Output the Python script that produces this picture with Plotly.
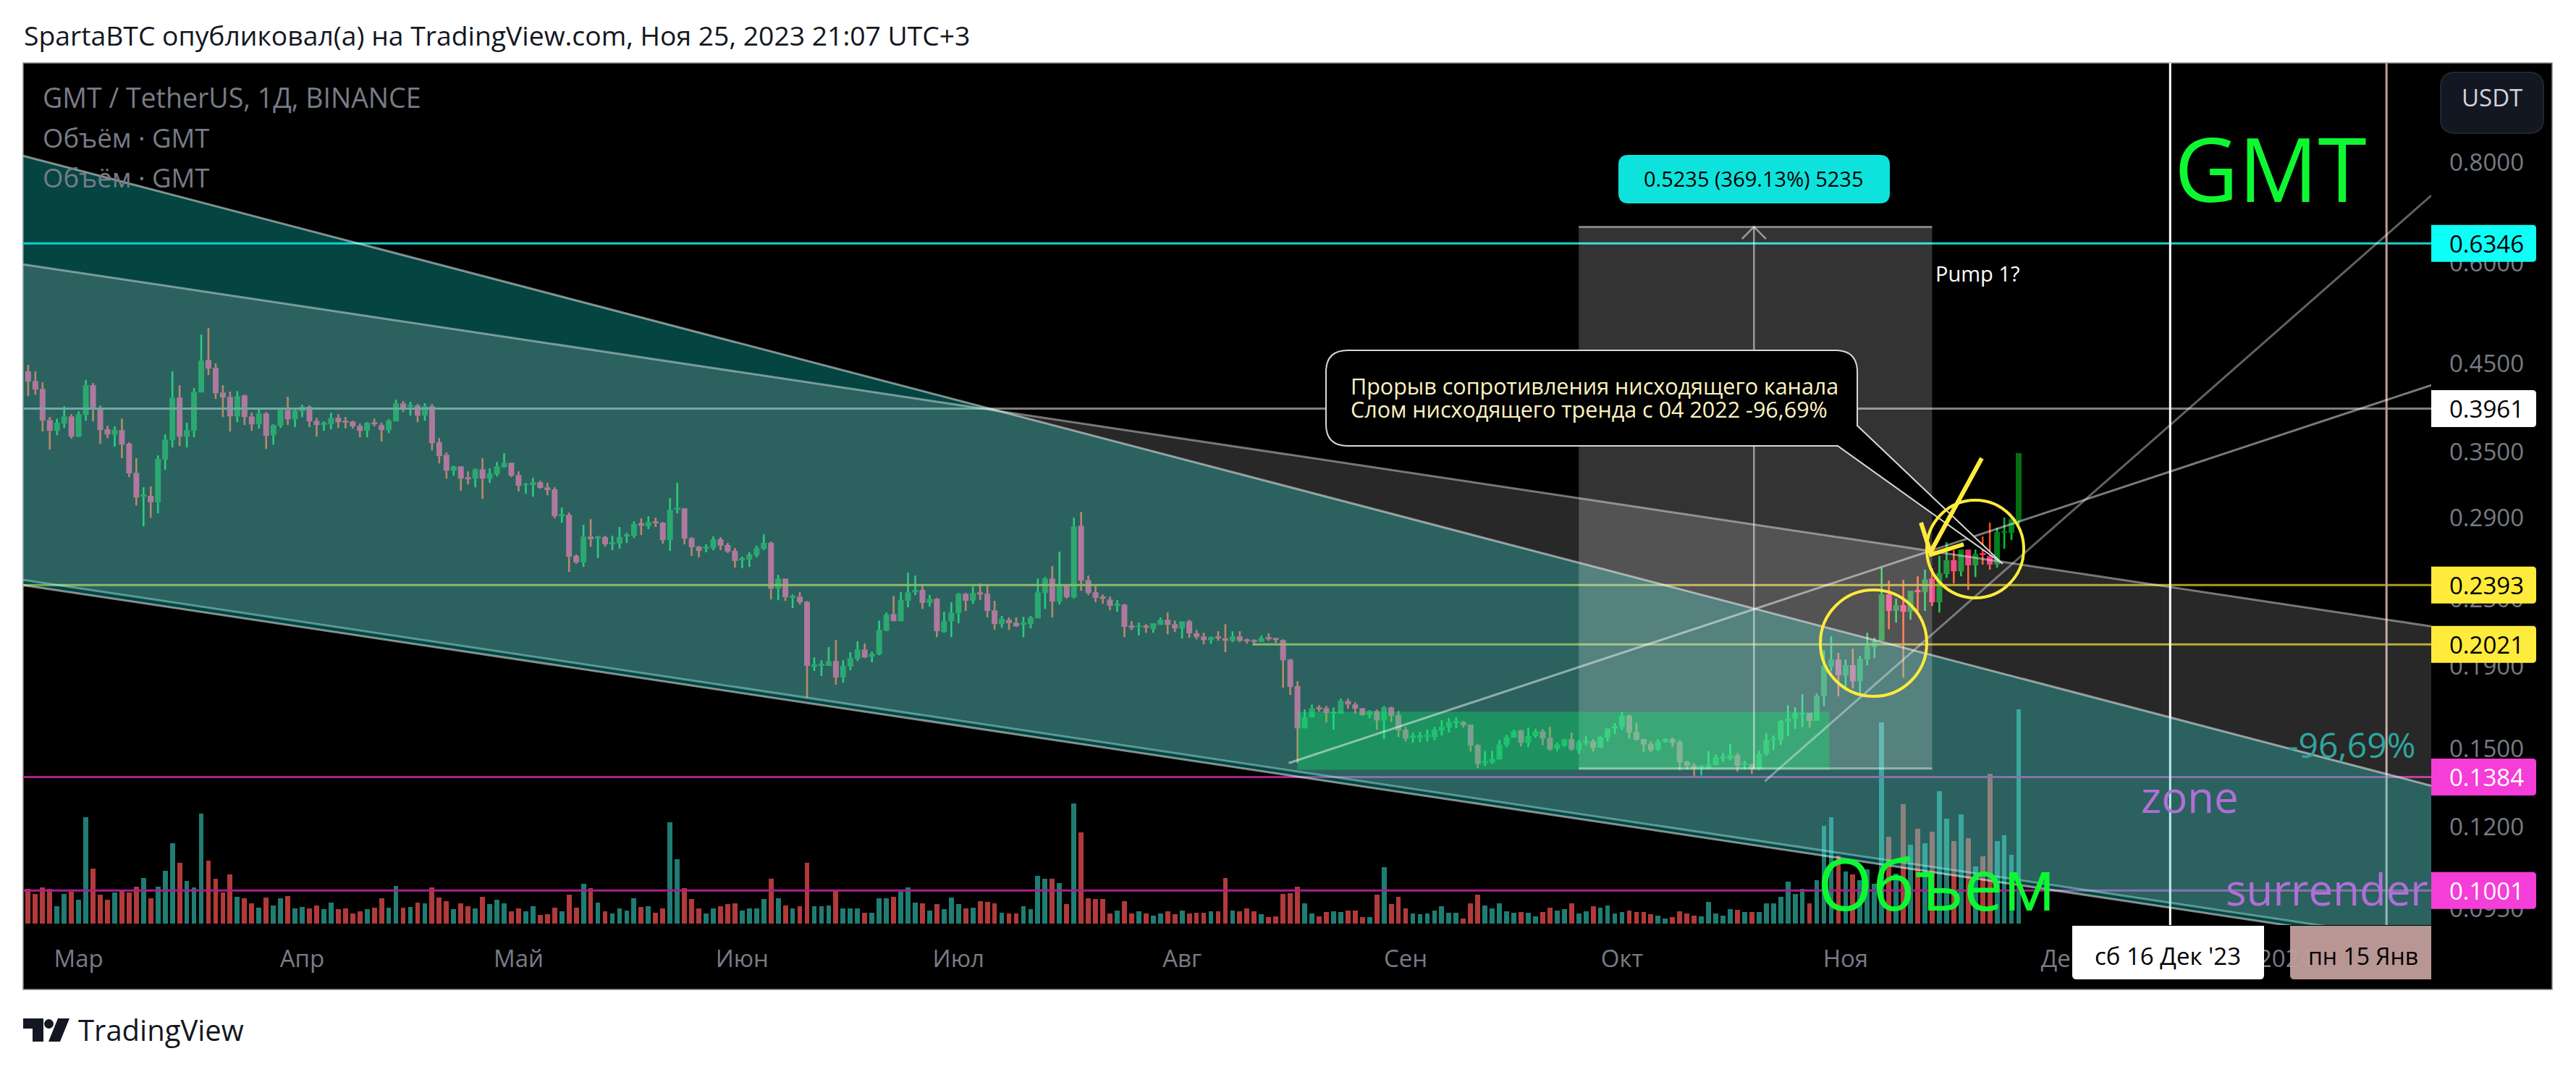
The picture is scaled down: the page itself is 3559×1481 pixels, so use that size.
import math
import pandas as pd
import plotly.graph_objects as go

W, H_PX = 3559, 1481
FONT = "Open Sans"

# ---- data ---------------------------------------------------------------------
start_date = "2023-02-22"
direction = ("rrrrggrggr" "rrgrrrgrgg" "grgggrrrrg" "rrgrggrggr" "rggrrrrgrr"
             "ggrgrgrrrg" "rrgrgggrrg" "grrrgrrgrg" "rggggrgrrg" "grrrggrrrg"
             "gggrgrgrrg" "ggrgggrggg" "rgggrgrggg" "rgrrrgrrgg" "ggrgrgrrrr"
             "rgrrgrggrr" "grrrgrrgrr" "rgrrrrrggr" "rggrrrgrgr" "rrgggggggr"
             "rrgggggrgg" "rrggrggrgg" "ggrrrrggrr" "rrgggggrgr" "gggggggrgg"
             "grgrggggrg" "rgrgrggrgr" "grrgggg")
high = [.4486,.4404,.4269,.3866,.3850,.3988,.3898,.3930,.4295,.4260,
        .3996,.3771,.3764,.3850,.3597,.3437,.3164,.3171,.3465,.3679,
        .4404,.4234,.3803,.4199,.4893,.4984,.4505,.4234,.4156,.4164,
        .4121,.3914,.3955,.3922,.3787,.3971,.4096,.3971,.4004,.3996,
        .3858,.3818,.3914,.3898,.3866,.3826,.3795,.3810,.3850,.3803,
        .3842,.4062,.4046,.4038,.4013,.4021,.4013,.3641,.3494,.3366,
        .3359,.3311,.3339,.3437,.3339,.3401,.3487,.3394,.3311,.3204,
        .3250,.3223,.3204,.3164,.2986,.2943,.2612,.2842,.2889,.2755,
        .2755,.2755,.2825,.2778,.2871,.2895,.2913,.2901,.2865,.3068,
        .3204,.2980,.2744,.2677,.2688,.2749,.2744,.2699,.2660,.2595,
        .2628,.2677,.2766,.2710,.2464,.2439,.2330,.2345,.2288,.1947,
        .1931,.2005,.2046,.1931,.1976,.2038,.2025,.1980,.2163,.2213,
        .2321,.2345,.2480,.2459,.2394,.2326,.2307,.2218,.2279,.2340,
        .2340,.2384,.2404,.2389,.2288,.2191,.2182,.2182,.2186,.2191,
        .2439,.2449,.2527,.2633,.2394,.2901,.2949,.2459,.2394,.2330,
        .2316,.2293,.2269,.2159,.2150,.2141,.2146,.2182,.2213,.2163,
        .2159,.2168,.2106,.2089,.2067,.2098,.2141,.2098,.2098,.2055,
        .2050,.2072,.2085,.2059,.2050,.1939,.1819,.1678,.1702,.1699,
        .1695,.1688,.1731,.1731,.1713,.1685,.1675,.1678,.1695,.1692,
        .1671,.1597,.1571,.1574,.1584,.1597,.1627,.1637,.1641,.1624,
        .1607,.1522,.1491,.1491,.1538,.1561,.1584,.1584,.1594,.1587,
        .1587,.1597,.1526,.1542,.1571,.1538,.1555,.1542,.1555,.1590,
        .1614,.1665,.1654,.1617,.1542,.1532,.1542,.1545,.1548,.1538,
        .1449,.1440,.1431,.1491,.1476,.1482,.1522,.1482,.1449,.1437,
        .1491,.1567,.1558,.1630,.1699,.1688,.1753,.1661,.1756,.1988,
        .2067,.1972,.1935,.1996,.1955,.2089,.2059,.2516,.2424,.2302,
        .2429,.2355,.2454,.2501,.2511,.2601,.2705,.2644,.2649,.2649,
        .2649,.2749,.2860,.2819,.2901,.2895,.3487]
body_top = [.4404,.4287,.4190,.3834,.3803,.3874,.3874,.3898,.4234,.4234,
        .3971,.3733,.3725,.3725,.3582,.3297,.3100,.3087,.3430,.3626,
        .4087,.4087,.3725,.4156,.4542,.4551,.4449,.4147,.4096,.4104,
        .4113,.3874,.3906,.3906,.3779,.3947,.3947,.3938,.3980,.3980,
        .3826,.3803,.3858,.3858,.3826,.3818,.3771,.3803,.3810,.3779,
        .3826,.4021,.4021,.4004,.3996,.3988,.3988,.3597,.3472,.3359,
        .3359,.3257,.3332,.3332,.3291,.3359,.3394,.3394,.3277,.3197,
        .3210,.3210,.3164,.3145,.2931,.2925,.2601,.2749,.2749,.2749,
        .2744,.2705,.2744,.2766,.2848,.2854,.2865,.2871,.2860,.2968,
        .2986,.2980,.2738,.2671,.2671,.2727,.2727,.2683,.2639,.2585,
        .2612,.2660,.2699,.2699,.2439,.2439,.2321,.2316,.2283,.1908,
        .1912,.1927,.1927,.1900,.1943,.1992,.1992,.1968,.2106,.2200,
        .2204,.2293,.2345,.2360,.2360,.2302,.2302,.2159,.2213,.2335,
        .2335,.2340,.2345,.2335,.2227,.2173,.2168,.2150,.2150,.2182,
        .2345,.2439,.2439,.2389,.2389,.2830,.2836,.2429,.2345,.2316,
        .2297,.2269,.2264,.2132,.2132,.2132,.2146,.2168,.2168,.2141,
        .2159,.2159,.2085,.2067,.2063,.2067,.2055,.2067,.2067,.2050,
        .2046,.2059,.2063,.2059,.2046,.1935,.1793,.1641,.1685,.1688,
        .1685,.1668,.1720,.1720,.1702,.1685,.1671,.1671,.1688,.1688,
        .1651,.1584,.1558,.1558,.1561,.1584,.1597,.1620,.1624,.1620,
        .1607,.1516,.1449,.1458,.1519,.1551,.1577,.1580,.1555,.1577,
        .1577,.1548,.1519,.1542,.1542,.1529,.1535,.1532,.1551,.1590,
        .1600,.1648,.1648,.1574,.1542,.1522,.1532,.1542,.1542,.1529,
        .1446,.1431,.1428,.1434,.1464,.1467,.1473,.1473,.1440,.1434,
        .1479,.1538,.1545,.1624,.1634,.1661,.1661,.1661,.1745,.1900,
        .1935,.1935,.1904,.1904,.1939,.2009,.2042,.2330,.2330,.2260,
        .2260,.2355,.2360,.2434,.2439,.2475,.2569,.2569,.2649,.2649,
        .2617,.2623,.2601,.2784,.2790,.2889,.3487]
body_bottom = [.4278,.4181,.3826,.3717,.3717,.3795,.3656,.3656,.3890,.3971,
        .3725,.3679,.3679,.3574,.3291,.3074,.3080,.3030,.3030,.3423,
        .3619,.3656,.3656,.3717,.4147,.4440,.4138,.4087,.3874,.3874,
        .3866,.3787,.3787,.3664,.3671,.3771,.3842,.3842,.3930,.3818,
        .3779,.3779,.3787,.3810,.3803,.3764,.3717,.3717,.3787,.3725,
        .3725,.3818,.3963,.3980,.3882,.3882,.3589,.3458,.3318,.3318,
        .3243,.3237,.3243,.3243,.3243,.3284,.3352,.3270,.3177,.3184,
        .3184,.3158,.3138,.2913,.2913,.2595,.2553,.2553,.2727,.2732,
        .2688,.2688,.2694,.2749,.2755,.2836,.2830,.2854,.2721,.2721,
        .2968,.2732,.2666,.2639,.2655,.2660,.2677,.2633,.2564,.2569,
        .2574,.2606,.2655,.2369,.2369,.2311,.2307,.2279,.1900,.1896,
        .1900,.1900,.1838,.1838,.1896,.1939,.1947,.1951,.1964,.2102,
        .2159,.2159,.2288,.2345,.2274,.2274,.2098,.2093,.2159,.2209,
        .2288,.2288,.2330,.2223,.2141,.2141,.2146,.2128,.2137,.2141,
        .2177,.2340,.2283,.2283,.2311,.2311,.2424,.2340,.2307,.2302,
        .2255,.2255,.2124,.2119,.2124,.2119,.2110,.2137,.2137,.2115,
        .2115,.2085,.2063,.2046,.2046,.2055,.2042,.2042,.2042,.2038,
        .2034,.2034,.2050,.2046,.1931,.1790,.1590,.1590,.1641,.1678,
        .1661,.1658,.1658,.1702,.1681,.1651,.1651,.1627,.1627,.1648,
        .1580,.1545,.1548,.1548,.1551,.1551,.1580,.1594,.1614,.1604,
        .1513,.1437,.1440,.1443,.1455,.1516,.1548,.1526,.1526,.1555,
        .1545,.1497,.1501,.1513,.1497,.1494,.1526,.1504,.1504,.1548,
        .1590,.1597,.1571,.1538,.1519,.1494,.1497,.1529,.1526,.1443,
        .1428,.1416,.1419,.1419,.1431,.1458,.1458,.1428,.1434,.1414,
        .1416,.1479,.1538,.1538,.1620,.1634,.1654,.1624,.1624,.1742,
        .1896,.1850,.1850,.1819,.1819,.1935,.2005,.2042,.2223,.2223,
        .2218,.2218,.2345,.2345,.2279,.2279,.2470,.2490,.2490,.2532,
        .2532,.2606,.2537,.2537,.2778,.2778,.2877]
low = [.4104,.4121,.3709,.3523,.3671,.3748,.3634,.3650,.3826,.3818,
        .3582,.3641,.3552,.3437,.3257,.3004,.2830,.2901,.2937,.3325,
        .3545,.3560,.3545,.3649,.4147,.4358,.4071,.3866,.3709,.3810,
        .3779,.3717,.3741,.3530,.3574,.3748,.3779,.3756,.3866,.3756,
        .3656,.3717,.3733,.3748,.3741,.3741,.3649,.3649,.3764,.3604,
        .3694,.3818,.3922,.3882,.3810,.3826,.3516,.3387,.3243,.3270,
        .3132,.3191,.3164,.3061,.3204,.3264,.3345,.3257,.3125,.3106,
        .3080,.3151,.3093,.2895,.2860,.2485,.2542,.2521,.2671,.2585,
        .2671,.2644,.2655,.2699,.2738,.2761,.2807,.2825,.2694,.2639,
        .2937,.2688,.2601,.2590,.2628,.2644,.2644,.2623,.2516,.2511,
        .2521,.2590,.2644,.2297,.2292,.2288,.2241,.2264,.1735,.1873,
        .1846,.1900,.1801,.1812,.1877,.1927,.1943,.1920,.1959,.2098,
        .2159,.2159,.2246,.2326,.2236,.2250,.2063,.2089,.2063,.2146,
        .2223,.2269,.2293,.2182,.2106,.2119,.2106,.2124,.2063,.2115,
        .2177,.2236,.2182,.2264,.2302,.2302,.2355,.2326,.2279,.2269,
        .2227,.2218,.2063,.2106,.2072,.2089,.2089,.2137,.2080,.2093,
        .2055,.2059,.2050,.2021,.2025,.2042,.1976,.2034,.2034,.2025,
        .2025,.2034,.2042,.2029,.1786,.1749,.1440,.1590,.1641,.1668,
        .1617,.1584,.1658,.1681,.1658,.1648,.1637,.1584,.1542,.1620,
        .1551,.1532,.1526,.1529,.1532,.1538,.1558,.1571,.1590,.1594,
        .1488,.1419,.1428,.1437,.1455,.1507,.1548,.1510,.1507,.1548,
        .1516,.1491,.1491,.1507,.1491,.1479,.1516,.1488,.1504,.1532,
        .1564,.1584,.1545,.1535,.1485,.1485,.1491,.1526,.1507,.1411,
        .1414,.1387,.1390,.1416,.1431,.1446,.1452,.1405,.1414,.1396,
        .1411,.1470,.1494,.1516,.1555,.1587,.1597,.1594,.1624,.1695,
        .1873,.1742,.1771,.1782,.1756,.1904,.1943,.2042,.2110,.2150,
        .1838,.2168,.2218,.2223,.2255,.2213,.2444,.2404,.2454,.2360,
        .2449,.2537,.2501,.2516,.2655,.2721,.2848]
volume = [104,87,107,102,52,89,95,70,316,164,85,70,93,97,92,110,136,76,110,157,
          239,181,127,108,327,187,134,93,145,80,74,59,48,78,54,74,82,46,50,44,
          54,42,63,42,46,31,37,42,48,76,48,112,48,50,63,59,108,78,67,42,
          61,52,46,80,57,70,61,37,46,37,52,25,28,48,37,85,48,119,106,63,
          37,29,44,39,74,50,52,33,44,301,190,106,72,46,31,46,52,57,59,39,
          46,46,72,134,74,54,44,52,181,52,52,54,97,46,46,46,33,
          33,76,76,80,95,108,63,61,39,57,
          42,78,57,46,48,67,65,59,33,31,
          31,52,42,142,132,132,121,57,357,271,
          74,72,72,31,39,67,29,37,29,24,
          29,37,27,39,31,33,33,37,37,136,
          39,37,44,37,27,20,22,89,91,110,
          59,31,22,35,37,35,39,39,20,20,
          85,168,57,80,44,31,27,31,39,52,
          33,33,14,59,85,54,46,59,37,33,
          35,33,22,35,48,39,42,61,29,37,
          52,48,54,31,35,39,35,35,27,24,
          16,20,37,29,24,22,65,29,24,42,40,
          34,34,34,61,61,79,124,87,104,59,128,289,315,202,154,145,128,160,117,596,
          257,147,353,233,280,237,272,392,310,244,323,252,170,199,445,244,261,203,634]
assert len(direction) == len(high) == len(body_top) == len(body_bottom) == len(low) == len(volume) == 277

month_dates = ["2023-03-01","2023-04-01","2023-05-01","2023-06-01","2023-07-01","2023-08-01",
               "2023-09-01","2023-10-01","2023-11-01","2023-12-01","2024-01-01"]
month_labels = ["Мар","Апр","Май","Июн","Июл","Авг","Сен","Окт","Ноя","Дек","2024"]
price_ticks = [0.8,0.6,0.45,0.35,0.29,0.23,0.19,0.15,0.12,0.095]
price_tick_labels = ["0.8000","0.6000","0.4500","0.3500","0.2900","0.2300","0.1900","0.1500","0.1200","0.0950"]
levels = [0.6346,0.3961,0.2393,0.2021,0.1384,0.1001]
level_colors = ["#0dd6d0","#7f7f7f","rgb(175,155,25)","rgb(175,155,25)","rgb(168,32,138)","rgb(168,32,138)"]
level_starts = ["L","L","L","2023-08-10 18:00","L","L"]
level_tags = ["#0dfff5","#ffffff","#ffeb3b","#ffeb3b","#f53dd8","#f53dd8"]
level_text = ["#000000","#000000","#000000","#000000","#ffffff","#ffffff"]

X_LEFT, X_RIGHT = "2023-02-21 07:26", "2024-01-21 04:50"
PRICE_MIN, PRICE_MAX = 0.0907, 1.062
teal_upper = (0.815, 0.1350)      # channel top, left and right edge
teal_lower = (0.2393, 0.0852)
white_upper = (0.5978, 0.2128)
white_lower = (0.2429, 0.0864)
measure_dates = ("2023-09-25", "2023-11-13")
measure_prices = (0.1418, 0.6653)
range_dates = ("2023-08-17", "2023-10-29 18:00")
range_prices = (0.1413, 0.1667)
trend_a = (("2023-08-15 19:00", X_RIGHT), (0.1440, 0.4234))
trend_b = (("2023-10-20 19:00", X_RIGHT), (0.1367, 0.7275))

# ---- derived ------------------------------------------------------------------
dates = pd.date_range(start_date, periods=len(high)).strftime("%Y-%m-%d").tolist()
up = [c == "g" for c in direction]
open_ = [b if u else t for u, t, b in zip(up, body_top, body_bottom)]
close = [t if u else b for u, t, b in zip(up, body_top, body_bottom)]

L_PX, R_PX, T_PX, B_PX = 32, 3359, 87, 1278
def X(px): return px / W
def Y(py): return 1 - py / H_PX
def P(x, y): return f"{X(x):.6f},{Y(y):.6f}"
def price_py(p):
    a, b = math.log10(PRICE_MAX), math.log10(PRICE_MIN)
    return T_PX + (a - math.log10(p)) / (a - b) * (B_PX - T_PX)

def rounded(x0, y0, x1, y1, tl=0, tr=0, br=0, bl=0):
    return (f"M{P(x0+tl,y0)} L{P(x1-tr,y0)} Q{P(x1,y0)} {P(x1,y0+tr)} L{P(x1,y1-br)} "
            f"Q{P(x1,y1)} {P(x1-br,y1)} L{P(x0+bl,y1)} Q{P(x0,y1)} {P(x0,y1-bl)} "
            f"L{P(x0,y0+tl)} Q{P(x0,y0)} {P(x0+tl,y0)} Z")

fig = go.Figure()

# volume (bottom layer, linear axis)
fig.add_trace(go.Bar(x=dates, y=volume, width=0.68*86400000, marker_line_width=0,
                     marker_color=["#1f7d73" if u else "#b23a3a" for u in up],
                     xaxis="x", yaxis="y", showlegend=False, hoverinfo="skip"))

# candle bodies
GREEN_BODY, RED_BODY = "rgb(0,128,30)", "rgb(239,43,113)"
GREEN_WICK, RED_WICK = "rgb(0,190,55)", "rgb(255,71,19)"
n = len(dates) - 1
fig.add_trace(go.Candlestick(x=dates[:n], open=open_[:n], high=high[:n], low=low[:n], close=close[:n],
    increasing=dict(fillcolor=GREEN_BODY, line=dict(color=GREEN_BODY, width=0)),
    decreasing=dict(fillcolor=RED_BODY, line=dict(color=RED_BODY, width=0)),
    whiskerwidth=0, xaxis="x", yaxis="y2", showlegend=False, hoverinfo="skip"))
fig.add_trace(go.Candlestick(x=dates[n:], open=open_[n:], high=high[n:], low=low[n:], close=close[n:],
    increasing=dict(fillcolor="rgb(4,110,18)", line=dict(color="rgb(4,110,18)", width=0)),
    decreasing=dict(fillcolor=RED_BODY, line=dict(color=RED_BODY, width=0)),
    whiskerwidth=0, xaxis="x", yaxis="y2", showlegend=False, hoverinfo="skip"))

# wicks
for flag, col in ((True, GREEN_WICK), (False, RED_WICK)):
    xs, ys = [], []
    for d, u, h, t, b, l in zip(dates, up, high, body_top, body_bottom, low):
        if u == flag:
            xs += [d, d, None, d, d, None]
            ys += [h, t, None, b, l, None]
    fig.add_trace(go.Scatter(x=xs, y=ys, mode="lines", line=dict(color=col, width=2.6),
                             xaxis="x", yaxis="y2", showlegend=False, hoverinfo="skip"))

def line(xs, ys, color, width=3):
    fig.add_trace(go.Scatter(x=list(xs), y=list(ys), mode="lines", line=dict(color=color, width=width),
                             xaxis="x", yaxis="y2", showlegend=False, hoverinfo="skip"))
def band(xs, ys, color):
    fig.add_trace(go.Scatter(x=list(xs), y=list(ys), mode="lines", fill="toself", fillcolor=color,
                             line=dict(width=0), xaxis="x", yaxis="y2", showlegend=False, hoverinfo="skip"))

# levels and time markers, below the translucent overlays
for lv, col, st in zip(levels, level_colors, level_starts):
    line([X_LEFT if st == "L" else st, X_RIGHT], [lv, lv], col)
line(["2023-12-16", "2023-12-16"], [PRICE_MIN, PRICE_MAX], "#ffffff")
line(["2024-01-15", "2024-01-15"], [PRICE_MIN, PRICE_MAX], "#c09c9a")

# translucent overlays
band([X_LEFT, X_RIGHT, X_RIGHT, X_LEFT, X_LEFT],
     [teal_upper[0], teal_upper[1], teal_lower[1], teal_lower[0], teal_upper[0]], "rgba(12,203,194,0.34)")
band([X_LEFT, X_RIGHT, X_RIGHT, X_LEFT, X_LEFT],
     [white_upper[0], white_upper[1], white_lower[1], white_lower[0], white_upper[0]], "rgba(255,255,255,0.155)")
md, mp = measure_dates, measure_prices
band([md[0], md[1], md[1], md[0], md[0]], [mp[0], mp[0], mp[1], mp[1], mp[0]], "rgba(255,255,255,0.2)")
rd, rp = range_dates, range_prices
band([rd[0], rd[1], rd[1], rd[0], rd[0]], [rp[0], rp[0], rp[1], rp[1], rp[0]], "rgba(0,255,104,0.3)")

# channel edges, trend lines, measure tool
line([X_LEFT, X_RIGHT], teal_upper, "rgba(255,255,255,0.5)")
line([X_LEFT, X_RIGHT], white_upper, "rgba(255,255,255,0.42)")
line([X_LEFT, X_RIGHT], white_lower, "rgba(190,255,250,0.4)")
line([X_LEFT, X_RIGHT], teal_lower, "rgba(255,255,255,0.5)")
line(trend_a[0], trend_a[1], "rgba(255,255,255,0.48)")
line(trend_b[0], trend_b[1], "rgba(255,255,255,0.38)")
line(md, [mp[0], mp[0]], "rgba(255,255,255,0.45)")
line(md, [mp[1], mp[1]], "rgba(255,255,255,0.45)")
line(["2023-10-19 07:00", "2023-10-19 07:00"], mp, "rgba(255,255,255,0.5)", 2.5)
line(["2023-10-17 15:00", "2023-10-19 07:00", "2023-10-20 23:00"], [0.6426, 0.6653, 0.6426], "rgba(255,255,255,0.5)", 2.5)

shapes = [
    dict(type="rect", xref="paper", yref="paper", x0=X(32), x1=X(3526), y0=Y(1367), y1=Y(87),
         fillcolor="#000000", line=dict(color="#8a8a8a", width=1.5), layer="below"),
    # USDT button
    dict(type="path", xref="paper", yref="paper", path=rounded(3372, 100, 3514, 184, 20, 20, 20, 20),
         fillcolor="#131722", line=dict(color="#2a2e39", width=1.5)),
    # measure label
    dict(type="path", xref="paper", yref="paper", path=rounded(2236, 214, 2611, 281, 14, 14, 14, 14),
         fillcolor="#0de3dc", line=dict(width=0)),
    # time tags
    dict(type="path", xref="paper", yref="paper", path=rounded(2863, 1279, 3128, 1353, 0, 0, 6, 6),
         fillcolor="#ffffff", line=dict(width=0)),
    dict(type="path", xref="paper", yref="paper", path=rounded(3164, 1279, 3359, 1353, 0, 0, 0, 6),
         fillcolor="rgba(192,156,154,0.96)", line=dict(width=0)),
    # callout
    dict(type="path", xref="paper", yref="paper",
         path=(f"M{P(1862,484)} L{P(2536,484)} Q{P(2566,484)} {P(2566,514)} L{P(2566,588)} L{P(2767,779)} "
               f"L{P(2539,616)} L{P(1862,616)} Q{P(1832,616)} {P(1832,586)} L{P(1832,514)} Q{P(1832,484)} {P(1862,484)} Z"),
         fillcolor="#000000", line=dict(color="#d8d8d8", width=2)),
    # circles
    dict(type="circle", xref="paper", yref="paper", x0=X(2515), x1=X(2662), y0=Y(962), y1=Y(815),
         line=dict(color="#ffeb3b", width=4)),
    dict(type="circle", xref="paper", yref="paper", x0=X(2662), x1=X(2796), y0=Y(826), y1=Y(691),
         line=dict(color="#ffeb3b", width=4)),
    # hand drawn arrow
    dict(type="path", xref="paper", yref="paper",
         path=f"M{P(2738,633)} L{P(2666,765)} M{P(2654,722)} L{P(2668,766)} L{P(2713,752)}",
         line=dict(color="#ffeb3b", width=6)),
    # logo
    dict(type="path", xref="paper", yref="paper",
         path=f"M{P(32,1407)} L{P(60,1407)} L{P(60,1439)} L{P(45,1439)} L{P(45,1421)} L{P(32,1421)} Z",
         fillcolor="#131722", line=dict(width=0)),
    dict(type="circle", xref="paper", yref="paper", x0=X(61), x1=X(74), y0=Y(1421), y1=Y(1408),
         fillcolor="#131722", line=dict(width=0)),
    dict(type="path", xref="paper", yref="paper",
         path=f"M{P(80,1407)} L{P(96,1407)} L{P(83,1439)} L{P(67,1439)} Z",
         fillcolor="#131722", line=dict(width=0)),
]
# price tags
for lv, col in zip(levels, level_tags):
    c = price_py(lv)
    shapes.append(dict(type="path", xref="paper", yref="paper",
                       path=rounded(3359, c-25.5, 3504, c+25.5, 0, 5, 5, 0),
                       fillcolor=col, line=dict(width=0)))

def text(s, x, y, size, color, anchor="left"):
    return dict(text=s, x=X(x), y=Y(y), xref="paper", yref="paper", xanchor=anchor, yanchor="middle",
                showarrow=False, font=dict(family=FONT, size=size, color=color), align="left", borderpad=0)

notes = [
    text("SpartaBTC опубликовал(а) на TradingView.com, Ноя 25, 2023 21:07 UTC+3", 32, 48, 37.3, "#131722"),
    text("GMT / TetherUS, 1Д, BINANCE", 58, 135, 37.5, "#787b86"),
    text("Объём · GMT", 58, 190, 36.5, "#787b86"),
    text("Объём · GMT", 58, 245, 36.5, "#787b86"),
    text("USDT", 3443, 135, 33, "#d1d4dc", "center"),
    text("0.5235 (369.13%) 5235", 2423, 247, 29, "#000000", "center"),
    text("Pump 1?", 2673, 377, 29, "#ffffff"),
    text("Прорыв сопротивления нисходящего канала", 1865, 533, 30.5, "#fff3c0"),
    text("Слом нисходящего тренда с 04 2022 -96,69%", 1865, 565, 30.5, "#fff3c0"),
    text("GMT", 3003, 232, 122, "#0ef832"),
    text("Объем", 2510, 1220, 98, "#0ef832"),
    text("-96,69%", 3159, 1028, 48, "#2ea69f"),
    text("zone", 2957, 1100, 60, "#b06fd8"),
    text("surrender", 3074, 1228, 60, "#b06fd8"),
    text("сб 16 Дек '23", 2995, 1320, 33, "#000000", "center"),
    text("пн 15 Янв", 3265, 1320, 32, "#000000", "center"),
    text("TradingView", 107, 1422, 40, "#131722"),
]
for lv, col in zip(levels, level_text):
    notes.append(text(f"{lv:.4f}", 3383, price_py(lv), 33, col))

fig.update_layout(
    width=W, height=H_PX, autosize=False, margin=dict(l=0, r=0, t=0, b=0, pad=0),
    paper_bgcolor="#ffffff", plot_bgcolor="#000000", showlegend=False, bargap=0,
    boxgap=0.2, boxgroupgap=0, hovermode=False,
    shapes=shapes, annotations=notes,
    xaxis=dict(type="date", domain=[X(L_PX), X(R_PX)], range=[X_LEFT, X_RIGHT],
               rangeslider=dict(visible=False), showgrid=False, zeroline=False, showline=False,
               tickmode="array", tickvals=month_dates, ticktext=month_labels, ticks="",
               ticklabelstandoff=24, tickfont=dict(family=FONT, size=33, color="#787b86")),
    yaxis=dict(domain=[Y(B_PX), Y(T_PX)], range=[-4.3, 2550], visible=False, fixedrange=True),
    yaxis2=dict(domain=[Y(B_PX), Y(T_PX)], type="log", overlaying="y", side="right", anchor="x",
                range=[math.log10(PRICE_MIN), math.log10(PRICE_MAX)],
                showgrid=False, zeroline=False, showline=False, ticks="",
                tickmode="array", tickvals=price_ticks, ticktext=price_tick_labels,
                ticklabelstandoff=24, tickfont=dict(family=FONT, size=33, color="#787b86")),
)

fig.write_html("out.html", config=dict(displayModeBar=False),
               post_script="document.body.style.margin='0';document.documentElement.style.overflow='hidden';")
